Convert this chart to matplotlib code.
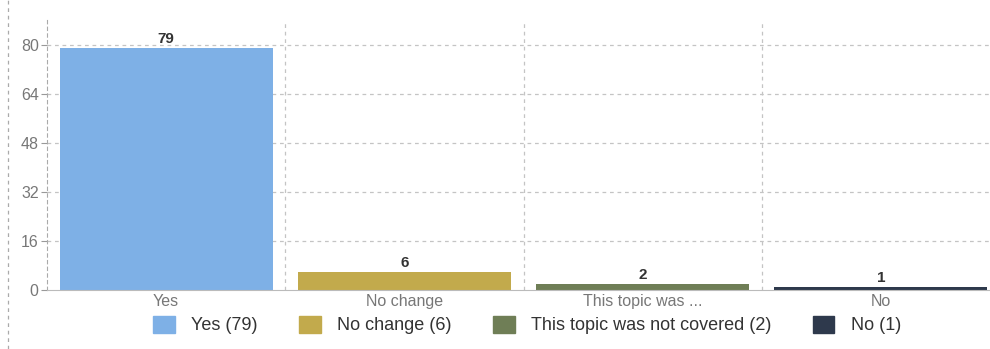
import matplotlib
matplotlib.use("Agg")
from matplotlib import pyplot as plt
from matplotlib.patches import Patch
from matplotlib.lines import Line2D

plt.rcParams["font.family"] = ["Liberation Sans", "DejaVu Sans"]

categories = ["Yes", "No change", "This topic was ...", "No"]
legend_names = ["Yes", "No change", "This topic was not covered", "No"]
values = [79, 6, 2, 1]
colors = ["#7eb0e6", "#c2aa4c", "#6f7e56", "#2e394c"]
yticks = [0, 16, 32, 48, 64, 80]

fig = plt.figure(figsize=(9.9, 3.49), dpi=100)
ax = fig.add_axes([47 / 990, 59 / 349, 953 / 990, 270 / 349])

x = list(range(len(categories)))
ax.bar(x, values, width=0.895, color=colors, zorder=2)
for xi, v in zip(x, values):
    ax.text(xi, v + 0.6, str(v), ha="center", va="bottom", fontsize=11,
            color="#333333", fontweight="bold")

ax.set_xlim(-0.5, 3.5)
ax.set_ylim(0, 88)
ax.set_yticks(yticks)
ax.set_xticks(x)
ax.set_xticklabels(categories)
ax.tick_params(axis="y", colors="#999999", labelcolor="#777777", labelsize=11.5, length=4, pad=2)
ax.tick_params(axis="x", length=0, labelcolor="#777777", labelsize=11.5, pad=3)

for t in yticks[1:]:
    ax.axhline(t, color="#c4c4c4", lw=0.9, ls=(0, (3, 3)), zorder=1)
for b in [0.5, 1.5, 2.5]:
    ax.axvline(b, color="#c4c4c4", lw=0.9, ls=(0, (3, 3)), zorder=1)

for s in ["top", "right"]:
    ax.spines[s].set_visible(False)
ax.spines["left"].set_color("#aaaaaa")
ax.spines["left"].set_linestyle((0, (3, 3)))
ax.spines["bottom"].set_color("#bbbbbb")

# page edge dashed line at far left
fig.add_artist(Line2D([8 / 990, 8 / 990], [0, 1], transform=fig.transFigure,
                      color="#aaaaaa", lw=0.9, ls=(0, (3, 3))))

handles = [Patch(color=c, label="{} ({})".format(n, v))
           for c, n, v in zip(colors, legend_names, values)]
fig.legend(handles=handles, loc="center", bbox_to_anchor=(527 / 990, 1 - 325 / 349),
           ncol=4, frameon=False, fontsize=13, handlelength=1.2, handleheight=1.1,
           columnspacing=2.3, handletextpad=0.9, labelcolor="#333333")

fig.savefig("out.png", dpi=100)
